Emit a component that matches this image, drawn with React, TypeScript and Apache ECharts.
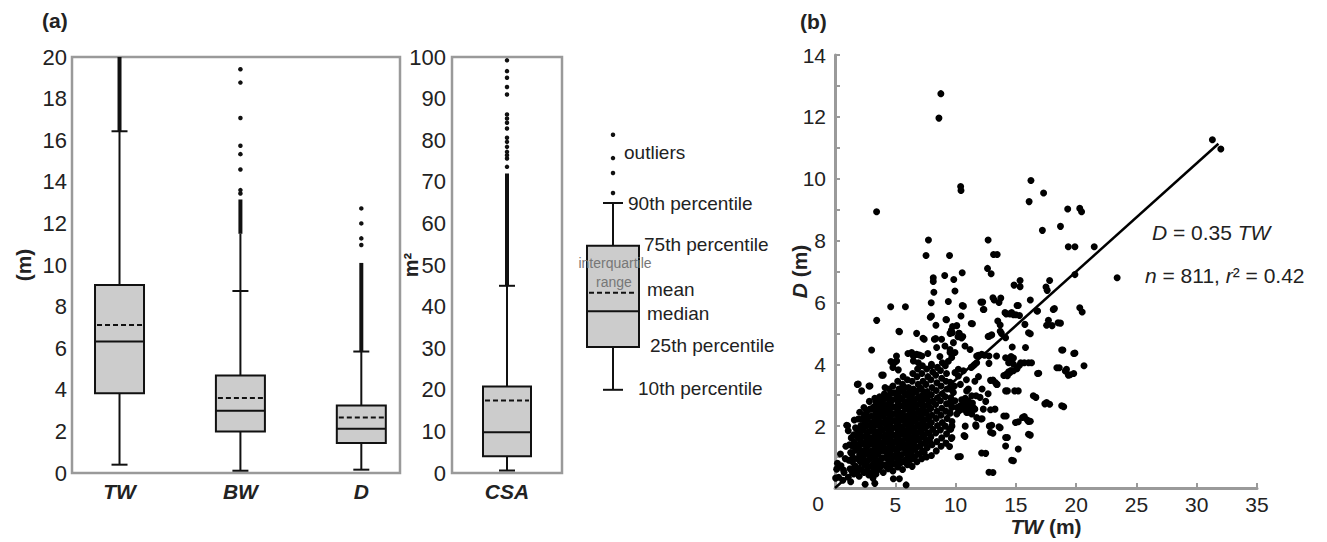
import React, { useEffect, useRef } from "react";
import * as echarts from "echarts";

// ---------- Panel (a) data ----------
const boxCategories = ["TW", "BW", "D"];
// [position, 10th pct, 25th pct, median, mean, 75th pct, 90th pct]
const boxStatsA = [
  [1, 0.4, 3.84, 6.32, 7.12, 9.04, 16.43],
  [2, 0.11, 2.0, 2.99, 3.6, 4.69, 8.75],
  [3, 0.16, 1.44, 2.13, 2.67, 3.25, 5.84],
];
const boxStatsCSA = [[1, 0.6, 4.0, 9.8, 17.4, 20.8, 45.0]];
// dense outlier runs drawn as a continuous thick stroke: [position, from, to]
const denseRunsA = [
  [1, 16.43, 20],
  [2, 11.5, 13.15],
  [3, 5.84, 10.1],
];
const sparseRunsA = [[2, 8.75, 11.5]];
const denseRunsCSA = [[1, 45.0, 72.0]];
const outliersA = [
  [2, 13.44], [2, 13.6], [2, 14.59], [2, 15.33], [2, 15.73], [2, 17.07], [2, 18.77], [2, 19.41],
  [3, 10.96], [3, 11.28], [3, 12.0], [3, 12.72],
];
const outliersCSA = [
  [1, 73.6], [1, 75.6], [1, 76.4], [1, 77.2], [1, 78.4], [1, 79.6], [1, 80.6], [1, 82.8],
  [1, 84.2], [1, 85.2], [1, 86.2], [1, 91.0], [1, 92.8], [1, 95.0], [1, 96.6], [1, 99.2],
];
// schematic key box (same scale as CSA)
const keyBox = [[1, 20, 30.3, 38.9, 43.3, 54.6, 64.9]];
const keyOutliers = [[1, 67.3], [1, 72.1], [1, 75.7], [1, 81.3]];

// ---------- Panel (b) data ----------
const yTicksB = [0, 2, 4, 6, 8, 10, 12, 14];
const fitLine = [[0, 0], [31.8, 11.13]];

const scatterOuter = [
  [8.78, 12.75], [8.62, 11.96], [10.42, 9.75], [10.45, 9.62], [16.25, 9.94], [16.1, 9.26], [17.3, 9.54],
  [19.3, 9.02], [20.3, 9.04], [20.45, 8.93], [17.2, 8.33], [18.7, 8.46], [19.35, 7.8], [19.9, 7.8],
  [21.5, 7.8], [3.45, 8.93], [7.75, 8.02], [12.7, 8.02], [7.55, 7.52], [9.5, 7.52], [13.15, 7.55],
  [13.45, 7.55], [12.65, 7.1], [12.95, 6.93], [10.55, 6.96], [9.1, 6.87], [8.15, 6.8], [8.15, 6.68],
  [9.85, 6.74], [9.95, 6.37], [8.2, 6.33], [7.98, 5.99], [9.4, 6.03], [10.65, 5.88], [7.9, 5.52],
  [8.0, 5.56], [9.25, 5.44], [10.45, 5.56], [9.75, 5.22], [10.1, 5.25], [9.65, 5.1], [10.3, 5.0],
  [11.4, 5.31], [10.6, 4.9], [4.62, 5.86], [5.84, 5.86], [3.46, 5.42], [5.35, 5.05], [6.77, 5.0],
  [7.3, 4.84], [12.1, 6.01], [12.35, 5.77], [13.1, 6.15], [13.2, 6.08], [13.6, 6.0], [14.2, 5.63],
  [14.85, 6.56], [15.35, 6.71], [15.35, 6.51], [14.8, 5.6], [15.3, 5.58], [15.2, 5.9], [16.2, 6.08],
  [16.75, 5.72], [17.5, 6.5], [17.6, 6.39], [17.8, 6.71], [18.2, 5.8], [18.7, 5.33], [18.0, 5.25],
  [19.9, 6.9], [20.3, 5.83], [20.5, 5.69], [13.5, 5.4], [13.7, 5.27], [13.8, 5.0], [14.15, 4.86],
  [16.2, 4.99], [15.75, 5.29], [12.8, 4.91], [13.0, 4.95], [31.3, 11.26], [32.0, 10.96], [23.4, 6.8],
];
const scatterRight = [
  [20.65, 3.95], [19.8, 4.35], [18.8, 4.46], [18.4, 3.89], [19.1, 3.78], [19.35, 3.65], [19.8, 3.7],
  [18.8, 2.66], [17.55, 2.76], [17.4, 2.72], [16.8, 3.7], [16.45, 2.98], [16.05, 4.05], [15.4, 4.05],
  [15.8, 4.54], [16.05, 5.02], [17.55, 5.26], [17.7, 5.42], [18.1, 5.77], [18.5, 5.34], [16.8, 5.72],
  [15.55, 2.28], [15.95, 2.2], [16.05, 2.15], [16.05, 1.74], [14.97, 2.12], [15.2, 1.26], [14.65, 0.9],
  [14.15, 1.63], [14.15, 1.36], [14.0, 2.33], [12.77, 0.51], [12.16, 1.13], [12.9, 1.8], [13.0, 2.03],
  [13.6, 1.98], [12.9, 2.53], [11.67, 2.04], [12.1, 2.23], [10.2, 1.01], [14.9, 3.14], [14.15, 3.14],
  [13.3, 3.41], [13.45, 3.35], [12.9, 3.48], [14.0, 3.64], [14.2, 3.68], [14.4, 3.76], [14.6, 3.8],
  [14.8, 4.0], [14.6, 4.1], [14.6, 4.25], [14.15, 4.21], [14.7, 4.56], [12.77, 4.03], [12.77, 4.27],
  [13.4, 4.27], [12.4, 4.29], [11.9, 4.29], [11.6, 4.0], [11.3, 3.9], [13.7, 5.07], [14.5, 5.63],
  [14.65, 5.67], [15.0, 5.6], [14.1, 5.67], [15.1, 5.9], [13.75, 6.14], [12.25, 6.01], [12.3, 5.77],
  [12.7, 4.9], [11.3, 5.32], [10.55, 5.9], [18.9, 4.46], [19.9, 4.36], [18.6, 3.89], [19.2, 3.84],
  [19.5, 3.66], [16.9, 3.71], [16.3, 4.05], [15.7, 4.05], [14.8, 4.2], [14.4, 4.05], [15.3, 3.97],
  [15.1, 3.86], [14.8, 3.79], [14.5, 3.73], [14.3, 3.63], [13.1, 3.49], [13.4, 3.35], [14.3, 3.14],
  [15.2, 3.14], [16.66, 2.93], [17.8, 2.71], [18.97, 2.63], [13.27, 2.55], [14.2, 2.33], [15.2, 2.14],
  [15.7, 2.31], [16.2, 2.16], [16.2, 1.71], [14.3, 1.63], [14.8, 0.88], [13.1, 0.5], [12.5, 1.12],
  [10.4, 1.02], [13.1, 1.77], [13.7, 1.95], [12.8, 2.0], [11.7, 2.0], [10.8, 2.0], [12.2, 2.24],
  [10.7, 1.7], [10.78, 1.67], [9.7, 2.0], [9.5, 1.9], [9.7, 1.63], [9.5, 1.34],
];
const scatterMid = [
  [11.2, 2.66], [11.47, 2.6], [10.65, 2.55], [10.1, 2.39], [10.92, 2.44], [11.34, 2.39], [10.37, 2.66],
  [10.78, 2.71], [11.06, 2.82], [9.95, 2.82], [10.1, 2.6], [9.68, 2.6], [9.54, 2.76], [12.03, 2.93],
  [11.7, 2.98], [11.34, 2.98], [10.92, 3.14], [11.06, 3.2], [9.54, 3.2], [9.82, 3.09], [10.23, 3.62],
  [10.65, 3.79], [11.47, 3.95], [11.75, 4.05], [12.17, 4.32], [11.75, 4.27], [11.2, 4.48], [10.78, 4.59],
  [9.82, 4.7], [9.54, 4.38], [9.68, 4.22], [9.95, 3.73], [10.23, 3.84], [11.75, 2.28], [12.3, 2.55],
  [1.85, 3.35], [2.82, 3.3], [2.21, 3.14], [3.87, 3.65], [3.04, 4.46], [4.0, 3.65], [4.92, 4.05],
  [5.11, 4.11], [4.64, 4.09], [4.8, 3.9], [5.25, 3.82], [5.1, 4.27], [6.05, 4.35], [6.5, 4.27],
  [7.0, 4.3], [7.2, 4.27], [6.36, 4.38], [6.77, 4.32], [6.5, 4.11], [6.91, 4.05], [7.4, 4.81],
  [8.24, 4.81], [8.84, 4.81], [8.43, 4.54], [9.12, 4.59], [9.73, 5.02], [10.28, 5.0], [9.54, 4.48],
  [9.95, 4.38], [8.0, 3.95], [8.37, 5.26], [9.2, 5.45], [9.54, 5.0], [10.2, 4.89], [10.5, 4.85],
  [5.3, 5.07], [0.97, 2.03], [0.14, 0.61], [0.7, 0.58], [2.5, 0.12], [3.3, 0.15], [4.84, 0.3],
  [5.34, 0.3], [5.9, 0.1], [0.05, 0.32], [1.05, 2.01], [1.93, 3.36], [2.9, 3.3], [4.15, 3.25],
  [8.35, 4.83], [7.7, 4.35], [8.7, 4.25], [9.4, 4.1], [9.9, 3.3], [10.4, 3.35], [10.9, 3.5],
  [11.9, 3.6], [12.2, 3.2], [11.6, 3.45], [12.5, 2.8], [12.7, 3.05],
];
const scatterDense = [
  [0.3, 0.35], [0.5, 0.72], [0.75, 0.5], [0.85, 0.95], [0.45, 1.1], [0.9, 1.35], [0.2, 0.8], [0.65, 0.25],
  [1.1, 0.35], [1.25, 0.62], [1.15, 0.9], [1.3, 1.15], [1.2, 1.4], [1.35, 1.62], [1.1, 1.85], [1.3, 0.2],
  [1.55, 0.45], [1.65, 0.72], [1.5, 0.98], [1.7, 1.22], [1.6, 1.48], [1.55, 1.72], [1.7, 1.95], [1.6, 2.2],
  [2.0, 0.38], [1.95, 0.62], [2.1, 0.85], [2.05, 1.08], [1.95, 1.3], [2.1, 1.55], [2.0, 1.78], [2.15, 2.02], [1.93, 2.23], [2.05, 2.45],
  [2.4, 0.5], [2.45, 0.75], [2.35, 1.0], [2.5, 1.2], [2.4, 1.42], [2.55, 1.65], [2.35, 1.88], [2.5, 2.1], [2.45, 2.35], [2.4, 2.6],
  [2.8, 0.42], [2.75, 0.68], [2.85, 0.92], [2.9, 1.15], [2.75, 1.38], [2.85, 1.6], [2.8, 1.82], [2.95, 2.05], [2.78, 2.3], [2.9, 2.55], [2.85, 2.8],
  [3.2, 0.55], [3.25, 0.8], [3.15, 1.02], [3.3, 1.25], [3.2, 1.48], [3.3, 1.7], [3.15, 1.92], [3.25, 2.15], [3.35, 2.38], [3.2, 2.62], [3.3, 2.9], [3.15, 0.32],
  [3.6, 0.6], [3.65, 0.85], [3.55, 1.1], [3.7, 1.32], [3.6, 1.55], [3.55, 1.78], [3.7, 2.0], [3.6, 2.22], [3.65, 2.45], [3.55, 2.7], [3.7, 2.95],
  [4.0, 0.5], [4.05, 0.75], [3.95, 0.98], [4.1, 1.2], [4.0, 1.42], [4.05, 1.65], [3.95, 1.88], [4.1, 2.1], [4.0, 2.32], [4.05, 2.55], [3.95, 2.78], [4.1, 3.05],
  [4.4, 0.62], [4.45, 0.88], [4.35, 1.1], [4.5, 1.33], [4.4, 1.56], [4.45, 1.8], [4.35, 2.02], [4.5, 2.25], [4.4, 2.48], [4.45, 2.72], [4.35, 2.95], [4.5, 3.2],
  [4.8, 0.55], [4.85, 0.8], [4.75, 1.05], [4.9, 1.28], [4.8, 1.5], [4.85, 1.72], [4.75, 1.95], [4.9, 2.18], [4.8, 2.4], [4.85, 2.62], [4.75, 2.85], [4.9, 3.08], [4.8, 3.3],
  [5.2, 0.68], [5.25, 0.92], [5.15, 1.15], [5.3, 1.38], [5.2, 1.6], [5.25, 1.83], [5.15, 2.05], [5.3, 2.28], [5.2, 2.5], [5.25, 2.75], [5.15, 2.98], [5.3, 3.2], [5.2, 3.45],
  [5.6, 0.6], [5.65, 0.85], [5.55, 1.08], [5.7, 1.3], [5.6, 1.52], [5.65, 1.75], [5.55, 1.98], [5.7, 2.2], [5.6, 2.42], [5.65, 2.65], [5.55, 2.88], [5.7, 3.1], [5.6, 3.35], [5.65, 3.6],
  [6.0, 0.75], [6.05, 1.0], [5.95, 1.22], [6.1, 1.45], [6.0, 1.68], [6.05, 1.9], [5.95, 2.12], [6.1, 2.35], [6.0, 2.58], [6.05, 2.8], [5.95, 3.02], [6.1, 3.25], [6.0, 3.5],
  [6.4, 0.7], [6.45, 0.95], [6.35, 1.18], [6.5, 1.4], [6.4, 1.62], [6.45, 1.85], [6.35, 2.08], [6.5, 2.3], [6.4, 2.52], [6.45, 2.75], [6.35, 2.98], [6.5, 3.2], [6.4, 3.45], [6.45, 3.7],
  [6.8, 0.85], [6.85, 1.1], [6.75, 1.32], [6.9, 1.55], [6.8, 1.78], [6.85, 2.0], [6.75, 2.22], [6.9, 2.45], [6.8, 2.68], [6.85, 2.9], [6.75, 3.12], [6.9, 3.35], [6.8, 3.6], [6.85, 3.85],
  [7.2, 0.95], [7.25, 1.2], [7.15, 1.42], [7.3, 1.65], [7.2, 1.88], [7.25, 2.1], [7.15, 2.32], [7.3, 2.55], [7.2, 2.78], [7.25, 3.0], [7.15, 3.22], [7.3, 3.45], [7.2, 3.7], [7.25, 3.95],
  [7.6, 1.0], [7.65, 1.3], [7.55, 1.55], [7.7, 1.78], [7.6, 2.0], [7.65, 2.22], [7.55, 2.45], [7.7, 2.68], [7.6, 2.9], [7.65, 3.12], [7.55, 3.35], [7.7, 3.6], [7.6, 3.85],
  [8.0, 1.05], [8.05, 1.4], [7.95, 1.65], [8.1, 1.9], [8.0, 2.12], [8.05, 2.35], [7.95, 2.58], [8.1, 2.8], [8.0, 3.02], [8.05, 3.25], [7.95, 3.5], [8.1, 3.75], [8.0, 4.0],
  [8.4, 1.2], [8.45, 1.5], [8.35, 1.78], [8.5, 2.02], [8.4, 2.25], [8.45, 2.48], [8.35, 2.7], [8.5, 2.92], [8.4, 3.15], [8.45, 3.4], [8.35, 3.65], [8.5, 3.9],
  [8.8, 1.35], [8.85, 1.62], [8.75, 1.88], [8.9, 2.12], [8.8, 2.35], [8.85, 2.58], [8.75, 2.82], [8.9, 3.05], [8.8, 3.3], [8.85, 3.55], [8.75, 3.8], [8.9, 4.05],
  [9.2, 1.45], [9.25, 1.75], [9.15, 2.0], [9.3, 2.25], [9.2, 2.48], [9.25, 2.72], [9.15, 2.95], [9.3, 3.2], [9.2, 3.45], [9.25, 3.7], [9.15, 3.95],
  [9.65, 1.6], [9.6, 1.9], [9.7, 2.15], [9.55, 2.42], [9.65, 2.68], [9.6, 2.92], [9.7, 3.18], [9.55, 3.42],
];
const scatterCore = [
  [1.4, 0.55], [1.45, 0.85], [1.4, 1.1], [1.45, 1.35], [1.8, 0.5], [1.85, 0.95], [1.8, 1.4], [1.85, 1.65], [1.8, 1.9],
  [2.2, 0.6], [2.25, 0.95], [2.2, 1.2], [2.25, 1.42], [2.2, 1.68], [2.25, 1.95], [2.2, 2.22],
  [2.6, 0.55], [2.65, 0.85], [2.6, 1.1], [2.62, 1.3], [2.6, 1.52], [2.65, 1.75], [2.6, 2.0], [2.65, 2.22], [2.6, 2.45],
  [3.0, 0.5], [3.05, 0.72], [3.0, 0.98], [3.05, 1.2], [3.0, 1.42], [3.05, 1.62], [3.0, 1.85], [3.05, 2.1], [3.0, 2.32], [3.05, 2.55],
  [3.4, 0.45], [3.45, 0.68], [3.4, 0.92], [3.45, 1.15], [3.4, 1.38], [3.45, 1.6], [3.4, 1.82], [3.45, 2.05], [3.4, 2.3], [3.45, 2.52], [3.4, 2.78],
  [3.8, 0.7], [3.85, 0.95], [3.8, 1.2], [3.85, 1.45], [3.8, 1.68], [3.85, 1.9], [3.8, 2.12], [3.85, 2.38], [3.8, 2.6], [3.85, 2.85],
  [4.2, 0.72], [4.25, 0.98], [4.2, 1.25], [4.25, 1.5], [4.2, 1.72], [4.25, 1.95], [4.2, 2.2], [4.25, 2.42], [4.2, 2.65], [4.25, 2.9],
  [4.6, 0.7], [4.65, 0.95], [4.6, 1.2], [4.65, 1.42], [4.6, 1.65], [4.65, 1.88], [4.6, 2.1], [4.65, 2.35], [4.6, 2.58], [4.65, 2.8], [4.6, 3.05],
  [5.0, 0.78], [5.05, 1.0], [5.0, 1.25], [5.05, 1.48], [5.0, 1.7], [5.05, 1.95], [5.0, 2.18], [5.05, 2.4], [5.0, 2.62], [5.05, 2.88],
  [5.4, 0.8], [5.45, 1.05], [5.4, 1.3], [5.45, 1.5], [5.4, 1.72], [5.45, 1.95], [5.4, 2.18], [5.45, 2.42], [5.4, 2.65], [5.45, 2.9], [5.4, 3.12],
  [5.8, 0.9], [5.85, 1.15], [5.8, 1.4], [5.85, 1.62], [5.8, 1.85], [5.85, 2.08], [5.8, 2.3], [5.85, 2.55], [5.8, 2.78], [5.85, 3.0], [5.8, 3.25],
  [6.2, 0.9], [6.25, 1.12], [6.2, 1.35], [6.25, 1.58], [6.2, 1.8], [6.25, 2.02], [6.2, 2.25], [6.25, 2.48], [6.2, 2.7], [6.25, 2.95], [6.2, 3.15],
  [6.6, 1.0], [6.65, 1.25], [6.6, 1.5], [6.65, 1.72], [6.6, 1.95], [6.65, 2.18], [6.6, 2.4], [6.65, 2.62], [6.6, 2.85], [6.65, 3.1],
  [7.0, 1.1], [7.05, 1.35], [7.0, 1.6], [7.05, 1.82], [7.0, 2.05], [7.05, 2.28], [7.0, 2.5], [7.05, 2.72], [7.0, 2.95], [7.05, 3.2],
  [7.4, 1.15], [7.45, 1.45], [7.4, 1.72], [7.45, 1.95], [7.4, 2.2], [7.45, 2.42], [7.4, 2.65], [7.45, 2.88], [7.4, 3.1],
  [7.85, 1.5], [7.8, 1.78], [7.85, 2.05], [7.8, 2.3], [7.85, 2.55], [7.8, 2.78], [7.85, 3.0],
  [10.3, 2.5], [10.6, 2.7], [10.9, 2.6], [11.1, 2.45], [11.4, 2.75], [11.6, 2.55], [10.5, 2.85], [10.8, 2.9], [11.3, 2.5], [11.0, 2.75],
];

const FONT = "'Liberation Sans', Arial, sans-serif";
const TXT = "#222";

function makeBoxRenderer(boxW: number, capW: number) {
  return (params: any, api: any) => {
    const x = api.value(0);
    const p = (i: number) => api.coord([x, api.value(i)]);
    const lo = p(1), q1 = p(2), med = p(3), mean = p(4), q3 = p(5), hi = p(6);
    const cx = lo[0];
    const ln = (x1: number, y1: number, x2: number, y2: number, extra: any = {}) => ({
      type: "line",
      shape: { x1, y1, x2, y2 },
      style: { stroke: "#111", lineWidth: 2, ...extra },
    });
    return {
      type: "group",
      children: [
        ln(cx, lo[1], cx, q1[1]),
        ln(cx, q3[1], cx, hi[1]),
        ln(cx - capW / 2, lo[1], cx + capW / 2, lo[1]),
        ln(cx - capW / 2, hi[1], cx + capW / 2, hi[1]),
        {
          type: "rect",
          shape: { x: cx - boxW / 2, y: q3[1], width: boxW, height: q1[1] - q3[1] },
          style: { fill: "#cccccc", stroke: "#111", lineWidth: 2 },
        },
        ln(cx - boxW / 2, med[1], cx + boxW / 2, med[1]),
        ln(cx - boxW / 2 + 2, mean[1], cx + boxW / 2 - 2, mean[1], { lineDash: [5, 3] }),
      ],
    };
  };
}

function makeRunRenderer(width: number) {
  return (params: any, api: any) => {
    const a = api.coord([api.value(0), api.value(1)]);
    const b = api.coord([api.value(0), api.value(2)]);
    return {
      type: "line",
      shape: { x1: a[0], y1: a[1], x2: b[0], y2: b[1] },
      style: { stroke: "#111", lineWidth: width },
    };
  };
}

export default function App() {
  const ref = useRef<HTMLDivElement>(null);
  useEffect(() => {
    document.body.style.margin = "0";
    const chart = echarts.init(ref.current!, null, { renderer: "svg" });
    const boxLabelStyle = { fontFamily: FONT, fontSize: 21, fontWeight: "bold", fontStyle: "italic", color: TXT };
    const keyText = (text: string, x: number, y: number, extra: any = {}) => ({
      type: "text",
      x,
      y,
      z: 100,
      zlevel: 0,
      style: { text, fontFamily: FONT, fontSize: 19, fill: TXT, verticalAlign: "middle", ...extra },
    });
    const richItalic = { i: { fontFamily: FONT, fontSize: 21, fontWeight: "bold", fontStyle: "italic", color: TXT } };
    const option: any = {
      animation: false,
      backgroundColor: "#fff",
      grid: [
        { left: 72, top: 57, width: 328, height: 416, show: true, borderColor: "#9a9a9a", borderWidth: 2.5, backgroundColor: "transparent" },
        { left: 452, top: 57, width: 110, height: 416, show: true, borderColor: "#9a9a9a", borderWidth: 2.5, backgroundColor: "transparent" },
        { left: 560, top: 57, width: 106, height: 416, show: false },
        { left: 835, top: 55, width: 422, height: 434 },
      ],
      xAxis: [
        {
          gridIndex: 0, type: "value", min: 0.607, max: 3.32,
          axisLine: { show: false }, axisTick: { show: false }, splitLine: { show: false },
          axisLabel: { customValues: [1, 2, 3], formatter: (v: number) => boxCategories[Math.round(v) - 1] || "", margin: 8, ...boxLabelStyle },
        },
        {
          gridIndex: 1, type: "value", min: 0, max: 2,
          axisLine: { show: false }, axisTick: { show: false }, splitLine: { show: false },
          axisLabel: { customValues: [1], formatter: () => "CSA", margin: 8, ...boxLabelStyle },
        },
        { gridIndex: 2, type: "value", min: 0, max: 2, show: false },
        {
          gridIndex: 3, type: "value", min: 0, max: 35, interval: 5,
          axisLine: { lineStyle: { color: "#9a9a9a", width: 3 } },
          axisTick: { inside: true, length: 5, lineStyle: { color: "#9a9a9a", width: 2 } },
          splitLine: { show: false },
          axisLabel: { formatter: (v: number) => (v === 0 ? "" : String(v)), fontFamily: FONT, fontSize: 21, color: TXT, margin: 6 },
          name: "{i|TW} (m)", nameLocation: "middle", nameGap: 28, nameMoveOverlap: false,
          nameTextStyle: { fontFamily: FONT, fontSize: 21, fontWeight: "bold", color: TXT, rich: richItalic },
        },
      ],
      yAxis: [
        {
          gridIndex: 0, type: "value", min: 0, max: 20, interval: 2,
          axisLine: { show: false }, axisTick: { show: false }, splitLine: { show: false },
          axisLabel: { fontFamily: FONT, fontSize: 22, color: TXT, margin: 5 },
          name: "(m)", nameLocation: "middle", nameGap: 38, nameMoveOverlap: false,
          nameTextStyle: { fontFamily: FONT, fontSize: 21, fontWeight: "bold", color: TXT },
        },
        {
          gridIndex: 1, type: "value", min: 0, max: 100, interval: 10,
          axisLine: { show: false }, axisTick: { show: false }, splitLine: { show: false },
          axisLabel: { fontFamily: FONT, fontSize: 22, color: TXT, margin: 6 },
          name: "m²", nameLocation: "middle", nameGap: 31, nameMoveOverlap: false,
          nameTextStyle: { fontFamily: FONT, fontSize: 20, fontWeight: "bold", color: TXT },
        },
        { gridIndex: 2, type: "value", min: 0, max: 100, show: false },
        {
          gridIndex: 3, type: "value", min: 0, max: 14, interval: 1,
          axisLine: { show: true, lineStyle: { color: "#9a9a9a", width: 3 } },
          axisTick: { show: true, inside: true, length: 5, lineStyle: { color: "#9a9a9a", width: 2 } },
          splitLine: { show: false },
          axisLabel: {
            formatter: (v: number) => (yTicksB.includes(v) && v !== 0 ? String(v) : ""),
            fontFamily: FONT, fontSize: 21, color: TXT, margin: 9,
          },
          name: "{i|D} (m)", nameLocation: "middle", nameGap: 25, nameMoveOverlap: false,
          nameTextStyle: { fontFamily: FONT, fontSize: 21, fontWeight: "bold", color: TXT, rich: richItalic },
        },
      ],
      series: [
        { type: "custom", xAxisIndex: 0, yAxisIndex: 0, data: sparseRunsA, renderItem: makeRunRenderer(2), clip: false, z: 2 },
        { type: "custom", xAxisIndex: 0, yAxisIndex: 0, data: denseRunsA, renderItem: makeRunRenderer(4), clip: false, z: 2 },
        { type: "custom", xAxisIndex: 0, yAxisIndex: 0, data: boxStatsA, renderItem: makeBoxRenderer(49, 16), clip: false, z: 3 },
        { type: "scatter", xAxisIndex: 0, yAxisIndex: 0, data: outliersA, symbolSize: 4.5, itemStyle: { color: "#111", opacity: 1 } },
        { type: "custom", xAxisIndex: 1, yAxisIndex: 1, data: denseRunsCSA, renderItem: makeRunRenderer(4), clip: false, z: 2 },
        { type: "custom", xAxisIndex: 1, yAxisIndex: 1, data: boxStatsCSA, renderItem: makeBoxRenderer(48, 16), clip: false, z: 3 },
        { type: "scatter", xAxisIndex: 1, yAxisIndex: 1, data: outliersCSA, symbolSize: 4.5, itemStyle: { color: "#111", opacity: 1 } },
        { type: "custom", xAxisIndex: 2, yAxisIndex: 2, data: keyBox, renderItem: makeBoxRenderer(52, 20), clip: false, z: 3 },
        { type: "scatter", xAxisIndex: 2, yAxisIndex: 2, data: keyOutliers, symbolSize: 4.5, itemStyle: { color: "#111", opacity: 1 } },
        {
          type: "scatter", xAxisIndex: 3, yAxisIndex: 3,
          data: [...scatterDense, ...scatterCore, ...scatterMid, ...scatterRight, ...scatterOuter],
          symbolSize: 7, itemStyle: { color: "#000", opacity: 1 }, clip: false,
        },
        {
          type: "line", xAxisIndex: 3, yAxisIndex: 3, data: fitLine, symbol: "none",
          lineStyle: { color: "#000", width: 2.5 }, z: 4,
        },
      ],
      graphic: [
        { type: "text", x: 42, y: 20, style: { text: "(a)", fontFamily: FONT, fontSize: 21, fontWeight: "bold", fill: TXT, verticalAlign: "middle" } },
        { type: "text", x: 800, y: 21, style: { text: "(b)", fontFamily: FONT, fontSize: 21, fontWeight: "bold", fill: TXT, verticalAlign: "middle" } },
        { type: "text", x: 818, y: 503, style: { text: "0", fontFamily: FONT, fontSize: 21, fill: TXT, align: "center", verticalAlign: "middle" } },
        keyText("outliers", 624, 152),
        keyText("90th percentile", 628, 203),
        keyText("75th percentile", 644, 244),
        keyText("interquartile", 615, 263, { fontSize: 14, fill: "#777", align: "center" }),
        keyText("range", 614, 282, { fontSize: 14, fill: "#777", align: "center" }),
        keyText("mean", 647, 289),
        keyText("median", 647, 313),
        keyText("25th percentile", 650, 345),
        keyText("10th percentile", 638, 388),
        {
          type: "text", x: 1152, y: 232,
          style: {
            text: "{i|D} = 0.35 {i|TW}", fontFamily: FONT, fontSize: 21, fill: TXT, verticalAlign: "middle",
            rich: { i: { fontFamily: FONT, fontSize: 21, fontStyle: "italic", fill: TXT } },
          },
        },
        {
          type: "text", x: 1145, y: 275,
          style: {
            text: "{i|n} = 811, {i|r}² = 0.42", fontFamily: FONT, fontSize: 21, fill: TXT, verticalAlign: "middle",
            rich: { i: { fontFamily: FONT, fontSize: 21, fontStyle: "italic", fill: TXT } },
          },
        },
      ],
    };
    chart.setOption(option);
    return () => chart.dispose();
  }, []);
  return <div ref={ref} style={{ width: 1327, height: 542 }} />;
}
